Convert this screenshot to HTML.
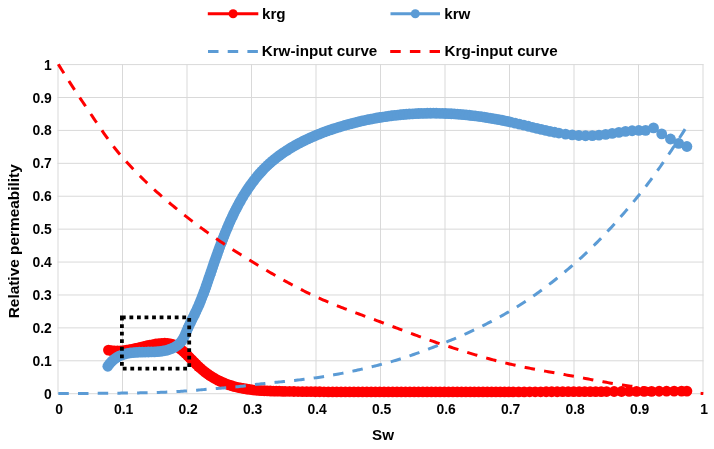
<!DOCTYPE html><html><head><meta charset="utf-8"><style>html,body{margin:0;padding:0;background:#fff;}svg{display:block;}</style></head><body>
<svg width="714" height="449" viewBox="0 0 714 449" font-family="'Liberation Sans', Arial, sans-serif" font-weight="bold">
<rect width="714" height="449" fill="#fff"/>
<path d="M58.00,64.10 V394.20 M122.50,64.10 V394.20 M187.00,64.10 V394.20 M251.50,64.10 V394.20 M316.00,64.10 V394.20 M380.50,64.10 V394.20 M445.00,64.10 V394.20 M509.50,64.10 V394.20 M574.00,64.10 V394.20 M638.50,64.10 V394.20 M703.00,64.10 V394.20 M57.50,393.70 H703.50 M57.50,360.79 H703.50 M57.50,327.88 H703.50 M57.50,294.97 H703.50 M57.50,262.06 H703.50 M57.50,229.15 H703.50 M57.50,196.24 H703.50 M57.50,163.33 H703.50 M57.50,130.42 H703.50 M57.50,97.51 H703.50 M57.50,64.60 H703.50" stroke="#D9D9D9" stroke-width="1" fill="none"/>
<text x="51.8" y="398.7" font-size="13.9" text-anchor="end" fill="#000">0</text>
<text x="51.8" y="365.8" font-size="13.9" text-anchor="end" fill="#000">0.1</text>
<text x="51.8" y="332.9" font-size="13.9" text-anchor="end" fill="#000">0.2</text>
<text x="51.8" y="300.0" font-size="13.9" text-anchor="end" fill="#000">0.3</text>
<text x="51.8" y="267.1" font-size="13.9" text-anchor="end" fill="#000">0.4</text>
<text x="51.8" y="234.1" font-size="13.9" text-anchor="end" fill="#000">0.5</text>
<text x="51.8" y="201.2" font-size="13.9" text-anchor="end" fill="#000">0.6</text>
<text x="51.8" y="168.3" font-size="13.9" text-anchor="end" fill="#000">0.7</text>
<text x="51.8" y="135.4" font-size="13.9" text-anchor="end" fill="#000">0.8</text>
<text x="51.8" y="102.5" font-size="13.9" text-anchor="end" fill="#000">0.9</text>
<text x="51.8" y="69.6" font-size="13.9" text-anchor="end" fill="#000">1</text>
<text x="59.2" y="413.9" font-size="13.9" text-anchor="middle" fill="#000">0</text>
<text x="123.7" y="413.9" font-size="13.9" text-anchor="middle" fill="#000">0.1</text>
<text x="188.2" y="413.9" font-size="13.9" text-anchor="middle" fill="#000">0.2</text>
<text x="252.7" y="413.9" font-size="13.9" text-anchor="middle" fill="#000">0.3</text>
<text x="317.2" y="413.9" font-size="13.9" text-anchor="middle" fill="#000">0.4</text>
<text x="381.7" y="413.9" font-size="13.9" text-anchor="middle" fill="#000">0.5</text>
<text x="446.2" y="413.9" font-size="13.9" text-anchor="middle" fill="#000">0.6</text>
<text x="510.7" y="413.9" font-size="13.9" text-anchor="middle" fill="#000">0.7</text>
<text x="575.2" y="413.9" font-size="13.9" text-anchor="middle" fill="#000">0.8</text>
<text x="639.7" y="413.9" font-size="13.9" text-anchor="middle" fill="#000">0.9</text>
<text x="704.2" y="413.9" font-size="13.9" text-anchor="middle" fill="#000">1</text>
<text x="383" y="439.7" font-size="15.2" text-anchor="middle" fill="#000">Sw</text>
<text transform="translate(18.5,241.3) rotate(-90)" x="0" y="0" font-size="15.4" text-anchor="middle" fill="#000">Relative permeability</text>
<path d="M108.46,350.11 L109.04,350.22 L109.62,350.33 L110.20,350.43 L110.78,350.52 L111.37,350.60 L111.95,350.67 L112.54,350.73 L113.12,350.79 L113.71,350.83 L114.29,350.87 L114.88,350.90 L115.47,350.93 L116.06,350.94 L116.65,350.95 L117.24,350.95 L117.83,350.95 L118.42,350.94 L119.01,350.92 L119.60,350.89 L120.19,350.86 L120.79,350.83 L121.38,350.78 L121.97,350.73 L122.57,350.68 L123.16,350.62 L123.76,350.56 L124.35,350.49 L124.95,350.41 L125.55,350.33 L126.14,350.25 L126.74,350.16 L127.34,350.07 L127.93,349.97 L128.53,349.87 L129.13,349.76 L129.72,349.66 L130.32,349.54 L130.92,349.43 L131.52,349.31 L132.11,349.19 L132.71,349.07 L133.31,348.95 L133.91,348.82 L134.51,348.69 L135.10,348.56 L135.70,348.42 L136.30,348.29 L136.90,348.15 L137.49,348.01 L138.09,347.87 L138.69,347.73 L139.29,347.59 L139.88,347.45 L140.48,347.31 L141.08,347.17 L141.67,347.02 L142.27,346.88 L142.86,346.74 L143.46,346.60 L144.05,346.46 L144.65,346.32 L145.24,346.18 L145.83,346.04 L146.43,345.90 L147.02,345.77 L147.61,345.63 L148.20,345.50 L148.79,345.37 L149.39,345.24 L149.98,345.11 L150.57,344.99 L151.15,344.87 L151.74,344.75 L152.33,344.63 L152.92,344.52 L153.50,344.41 L154.09,344.31 L154.67,344.21 L155.26,344.11 L155.84,344.01 L156.42,343.92 L157.00,343.84 L157.59,343.76 L158.17,343.68 L158.74,343.61 L159.32,343.54 L159.90,343.48 L160.48,343.42 L161.05,343.37 L161.63,343.33 L162.20,343.29 L162.77,343.25 L163.34,343.23 L163.91,343.21 L164.48,343.19 L165.05,343.19 L165.61,343.19 L166.18,343.21 L166.74,343.23 L167.29,343.26 L167.85,343.31 L168.40,343.37 L168.94,343.44 L169.49,343.53 L170.03,343.63 L170.56,343.75 L171.09,343.89 L171.61,344.04 L172.13,344.21 L172.64,344.40 L173.15,344.60 L173.65,344.82 L174.15,345.05 L174.65,345.29 L175.14,345.55 L175.62,345.81 L176.10,346.09 L176.58,346.37 L177.06,346.67 L177.53,346.97 L178.00,347.28 L178.46,347.59 L178.93,347.91 L179.39,348.25 L179.84,348.58 L180.30,348.93 L180.75,349.28 L181.20,349.63 L181.64,350.00 L182.09,350.37 L182.53,350.74 L182.97,351.12 L183.41,351.50 L183.85,351.89 L184.28,352.29 L184.72,352.68 L185.15,353.09 L185.58,353.49 L186.01,353.90 L186.44,354.32 L186.87,354.73 L187.29,355.15 L187.72,355.58 L188.14,356.00 L188.57,356.43 L188.99,356.86 L189.42,357.29 L189.84,357.73 L190.27,358.16 L190.69,358.60 L191.11,359.04 L191.54,359.47 L191.96,359.91 L192.39,360.35 L192.81,360.79 L193.24,361.23 L193.67,361.67 L194.10,362.11 L194.53,362.55 L194.96,362.98 L195.39,363.42 L195.82,363.85 L196.26,364.29 L196.69,364.72 L197.13,365.15 L197.57,365.57 L198.01,366.00 L198.46,366.42 L198.90,366.83 L199.35,367.25 L199.80,367.66 L200.25,368.07 L200.71,368.47 L201.17,368.87 L201.63,369.27 L202.09,369.66 L202.56,370.05 L203.03,370.44 L203.50,370.82 L203.97,371.20 L204.44,371.57 L204.92,371.94 L205.40,372.31 L205.88,372.67 L206.36,373.03 L206.85,373.39 L207.34,373.74 L207.83,374.09 L208.32,374.43 L208.81,374.77 L209.31,375.11 L209.81,375.44 L210.31,375.77 L210.81,376.09 L211.31,376.41 L211.82,376.73 L212.33,377.05 L212.84,377.36 L213.35,377.66 L213.86,377.96 L214.38,378.26 L214.90,378.56 L215.41,378.85 L215.94,379.13 L216.46,379.42 L216.98,379.69 L217.51,379.97 L218.03,380.24 L218.56,380.51 L219.09,380.77 L219.62,381.03 L220.16,381.28 L220.69,381.54 L221.23,381.78 L221.77,382.03 L222.31,382.27 L222.85,382.50 L223.39,382.73 L223.93,382.96 L224.48,383.18 L225.02,383.40 L225.57,383.62 L226.12,383.83 L226.67,384.04 L227.22,384.24 L227.77,384.44 L228.32,384.64 L228.88,384.83 L229.43,385.02 L229.99,385.20 L230.54,385.38 L231.10,385.56 L231.66,385.73 L232.22,385.90 L232.78,386.06 L233.35,386.22 L233.91,386.38 L234.47,386.54 L235.04,386.69 L235.61,386.83 L236.17,386.98 L236.74,387.12 L237.31,387.26 L237.88,387.39 L238.45,387.52 L239.02,387.65 L239.60,387.77 L240.17,387.89 L240.75,388.01 L241.32,388.13 L241.90,388.24 L242.47,388.35 L243.05,388.46 L243.63,388.56 L244.21,388.66 L244.79,388.76 L245.37,388.86 L245.95,388.95 L246.53,389.04 L247.12,389.13 L247.70,389.21 L248.28,389.29 L248.87,389.37 L249.45,389.45 L250.04,389.53 L250.63,389.60 L251.21,389.67 L251.80,389.74 L252.39,389.80 L252.98,389.87 L253.57,389.93 L254.16,389.99 L254.75,390.05 L255.34,390.10 L255.93,390.16 L256.52,390.21 L257.11,390.26 L257.71,390.31 L258.30,390.36 L258.89,390.40 L259.49,390.44 L260.08,390.49 L260.68,390.53 L261.27,390.57 L261.87,390.60 L262.46,390.64 L263.06,390.67 L263.65,390.70 L264.25,390.74 L264.85,390.77 L265.45,390.80 L266.04,390.82 L266.64,390.85 L267.24,390.88 L267.84,390.90 L268.43,390.92 L269.03,390.95 L269.63,390.97 L270.23,390.99 L270.83,391.01 L271.43,391.03 L272.03,391.04 L272.63,391.06 L273.23,391.08 L273.83,391.09 L274.43,391.11 L275.03,391.13 L275.62,391.14 L276.22,391.15 L276.82,391.17 L277.42,391.18 L278.02,391.19 L278.62,391.21 L279.22,391.22 L279.82,391.23 L280.42,391.24 L281.02,391.25 L281.62,391.27 L282.22,391.28 L282.82,391.29 L283.42,391.30 L284.01,391.31 L284.61,391.32 L285.21,391.33 L285.81,391.34 L286.41,391.35 L287.01,391.37 L287.61,391.38 L288.20,391.39 L288.80,391.40 L289.40,391.41 L290.00,391.42 L290.60,391.43 L291.19,391.44 L291.79,391.44 L292.39,391.45 L292.99,391.46 L293.59,391.47 L294.18,391.48 L294.78,391.49 L295.38,391.50 L295.97,391.51 L296.57,391.52 L297.17,391.52 L297.77,391.53 L298.36,391.54 L298.96,391.55 L299.56,391.56 L300.15,391.57 L300.75,391.57 L301.35,391.58 L301.94,391.59 L302.54,391.60 L303.14,391.60 L303.73,391.61 L304.33,391.62 L304.93,391.62 L305.52,391.63 L306.12,391.64 L306.71,391.64 L307.31,391.65 L307.91,391.66 L308.50,391.66 L309.10,391.67 L309.69,391.68 L310.29,391.68 L310.89,391.69 L311.48,391.69 L312.08,391.70 L312.67,391.71 L313.27,391.71 L313.86,391.72 L314.46,391.72 L315.05,391.73 L315.65,391.73 L316.24,391.74 L316.84,391.74 L317.44,391.75 L318.03,391.75 L318.63,391.76 L319.22,391.76 L319.82,391.77 L320.41,391.77 L321.00,391.77 L321.60,391.78 L322.19,391.78 L322.79,391.79 L323.38,391.79 L323.98,391.80 L324.57,391.80 L325.17,391.80 L325.76,391.81 L326.36,391.81 L326.95,391.81 L327.55,391.82 L328.14,391.82 L328.73,391.82 L329.33,391.83 L329.92,391.83 L330.52,391.83 L331.11,391.84 L331.70,391.84 L332.30,391.84 L332.89,391.85 L333.49,391.85 L334.08,391.85 L334.67,391.86 L335.27,391.86 L335.86,391.86 L336.46,391.86 L337.05,391.87 L337.64,391.87 L338.24,391.87 L338.83,391.87 L339.42,391.87 L340.02,391.88 L340.61,391.88 L341.21,391.88 L341.80,391.88 L342.39,391.88 L342.99,391.89 L343.58,391.89 L344.17,391.89 L344.77,391.89 L345.36,391.89 L345.95,391.89 L346.55,391.90 L347.14,391.90 L347.73,391.90 L348.33,391.90 L348.92,391.90 L349.51,391.90 L350.11,391.90 L350.70,391.91 L351.29,391.91 L351.89,391.91 L352.48,391.91 L353.07,391.91 L353.67,391.91 L354.26,391.91 L354.85,391.91 L355.45,391.91 L356.04,391.92 L356.63,391.92 L357.23,391.92 L357.82,391.92 L358.41,391.92 L359.00,391.92 L359.60,391.92 L360.19,391.92 L360.78,391.92 L361.38,391.92 L361.97,391.92 L362.56,391.92 L363.16,391.92 L363.75,391.92 L364.34,391.92 L364.94,391.92 L365.53,391.92 L366.12,391.92 L366.71,391.93 L367.31,391.93 L367.90,391.93 L368.49,391.93 L369.09,391.93 L369.68,391.93 L370.27,391.93 L370.87,391.93 L371.46,391.93 L372.05,391.93 L372.64,391.93 L373.24,391.93 L373.83,391.93 L374.42,391.93 L375.02,391.93 L375.61,391.93 L376.20,391.93 L376.80,391.93 L377.39,391.93 L377.98,391.93 L378.58,391.93 L379.17,391.93 L379.76,391.93 L380.35,391.93 L380.95,391.93 L381.54,391.93 L382.13,391.93 L382.73,391.93 L383.32,391.93 L383.91,391.93 L384.51,391.93 L385.10,391.93 L385.69,391.93 L386.29,391.93 L386.88,391.93 L387.47,391.93 L388.07,391.93 L388.66,391.93 L389.25,391.93 L389.85,391.93 L390.44,391.93 L391.03,391.93 L391.63,391.93 L392.22,391.93 L392.81,391.93 L393.41,391.93 L394.00,391.93 L394.59,391.93 L395.19,391.93 L395.78,391.93 L396.37,391.93 L396.97,391.93 L397.56,391.93 L398.16,391.93 L398.75,391.93 L399.34,391.93 L399.94,391.93 L400.53,391.93 L401.12,391.93 L401.72,391.93 L402.31,391.93 L402.90,391.93 L403.50,391.93 L404.09,391.93 L404.68,391.93 L405.28,391.93 L405.87,391.93 L406.47,391.93 L407.06,391.93 L407.65,391.93 L408.25,391.93 L408.84,391.93 L409.43,391.93 L410.03,391.93 L410.62,391.93 L411.22,391.93 L411.81,391.93 L412.40,391.93 L413.00,391.93 L413.59,391.93 L414.18,391.93 L414.78,391.93 L415.37,391.93 L415.97,391.93 L416.56,391.93 L417.15,391.93 L417.75,391.93 L418.34,391.93 L418.94,391.93 L419.53,391.93 L420.12,391.93 L420.72,391.93 L421.31,391.93 L421.91,391.93 L422.50,391.93 L423.09,391.92 L423.69,391.92 L424.28,391.92 L424.88,391.92 L425.47,391.92 L426.06,391.92 L426.66,391.92 L427.25,391.92 L427.85,391.92 L428.44,391.92 L429.03,391.92 L429.63,391.92 L430.22,391.92 L430.82,391.92 L431.41,391.92 L432.00,391.92 L432.60,391.92 L433.19,391.92 L433.79,391.92 L434.38,391.92 L434.97,391.92 L435.57,391.92 L436.16,391.92 L436.76,391.92 L437.35,391.92 L437.95,391.92 L438.54,391.92 L439.13,391.92 L439.73,391.92 L440.32,391.92 L440.92,391.92 L441.51,391.92 L442.11,391.92 L442.70,391.92 L443.29,391.92 L443.89,391.92 L444.48,391.92 L445.08,391.92 L445.67,391.91 L446.27,391.91 L446.86,391.91 L447.45,391.91 L448.05,391.91 L448.64,391.91 L449.24,391.91 L449.83,391.91 L450.43,391.91 L451.02,391.91 L451.61,391.91 L452.21,391.91 L452.80,391.91 L453.40,391.91 L453.99,391.91 L454.59,391.91 L455.18,391.91 L455.78,391.91 L456.37,391.91 L456.96,391.91 L457.56,391.91 L458.15,391.91 L458.75,391.91 L459.34,391.91 L459.94,391.90 L460.53,391.90 L461.13,391.90 L461.72,391.90 L462.31,391.90 L462.91,391.90 L463.50,391.90 L464.10,391.90 L464.69,391.90 L465.29,391.90 L465.88,391.90 L466.48,391.90 L467.07,391.90 L467.67,391.90 L468.26,391.90 L468.85,391.90 L469.45,391.90 L470.04,391.90 L470.64,391.89 L471.23,391.89 L471.83,391.89 L472.42,391.89 L473.02,391.89 L473.61,391.89 L474.21,391.89 L474.80,391.89 L475.39,391.89 L475.99,391.89 L476.58,391.89 L477.18,391.89 L477.77,391.89 L478.37,391.89 L478.96,391.89 L479.56,391.89 L480.15,391.88 L480.75,391.88 L481.34,391.88 L481.94,391.88 L482.53,391.88 L483.13,391.88 L483.72,391.88 L484.31,391.88 L484.91,391.88 L485.50,391.88 L486.10,391.88 L486.69,391.88 L487.29,391.88 L487.88,391.88 L488.48,391.87 L489.07,391.87 L489.67,391.87 L490.26,391.87 L490.86,391.87 L491.45,391.87 L492.05,391.87 L492.64,391.87 L493.24,391.87 L493.83,391.87 L494.43,391.87 L495.02,391.87 L495.62,391.86 L496.21,391.86 L496.80,391.86 L497.40,391.86 L497.99,391.86 L498.59,391.86 L499.18,391.86 L499.78,391.86 L500.37,391.86 L500.97,391.86 L501.56,391.86 L502.16,391.85 L502.75,391.85 L503.35,391.85 L503.94,391.85 L504.54,391.85 L505.13,391.85 L505.73,391.85 L506.32,391.85 L506.92,391.85 L507.51,391.85 L508.11,391.84 L508.70,391.84 L509.30,391.84 L509.89,391.84 L510.49,391.84 L511.08,391.84 L511.68,391.84 L512.27,391.84 L512.87,391.84 L513.46,391.84 L514.05,391.83 L514.65,391.83 L515.24,391.83 L515.84,391.83 L516.43,391.83 L517.03,391.83 L517.62,391.83 L518.22,391.83 L518.81,391.83 L519.41,391.82 L520.00,391.82 L520.60,391.82 L521.19,391.82 L521.79,391.82 L522.38,391.82 L522.98,391.82 L523.57,391.82 L524.17,391.81 L524.76,391.81 L525.36,391.81 L525.95,391.81 L526.55,391.81 L527.14,391.81 L527.74,391.81 L528.33,391.81 L528.93,391.80 L529.52,391.80 L530.12,391.80 L530.71,391.80 L531.31,391.80 L531.90,391.80 L532.50,391.80 L533.09,391.79 L533.69,391.79 L534.28,391.79 L534.88,391.79 L535.47,391.79 L536.07,391.79 L536.66,391.79 L537.26,391.79 L537.85,391.78 L538.45,391.78 L539.04,391.78 L539.64,391.78 L540.23,391.78 L540.83,391.78 L541.42,391.77 L542.02,391.77 L542.61,391.77 L543.20,391.77 L543.80,391.77 L544.39,391.77 L544.99,391.77 L545.58,391.76 L546.18,391.76 L546.77,391.76 L547.37,391.76 L547.96,391.76 L548.56,391.76 L549.15,391.75 L549.75,391.75 L550.34,391.75 L550.94,391.75 L551.53,391.75 L552.13,391.75 L552.72,391.74 L553.32,391.74 L553.91,391.74 L554.51,391.74 L555.10,391.74 L555.70,391.74 L556.29,391.73 L556.89,391.73 L557.48,391.73 L558.08,391.73 L558.67,391.73 L559.27,391.73 L559.86,391.72 L560.46,391.72 L561.05,391.72 L561.65,391.72 L562.24,391.72 L562.84,391.72 L563.43,391.71 L564.03,391.71 L564.62,391.71 L565.22,391.71 L565.81,391.71 L566.41,391.70 L567.00,391.70 L567.60,391.70 L568.19,391.70 L568.78,391.70 L569.38,391.69 L569.97,391.69 L570.57,391.69 L571.16,391.69 L571.76,391.69 L572.35,391.68 L572.95,391.68 L573.54,391.68 L574.14,391.68 L574.73,391.68 L575.33,391.67 L575.92,391.67 L576.52,391.67 L577.11,391.67 L577.71,391.67 L578.30,391.66 L578.90,391.66 L579.49,391.66 L580.09,391.66 L580.68,391.66 L581.28,391.65 L581.87,391.65 L582.47,391.65 L583.06,391.65 L583.66,391.65 L584.25,391.64 L584.84,391.64 L585.44,391.64 L586.03,391.64 L586.63,391.63 L587.22,391.63 L587.82,391.63 L588.41,391.63 L589.01,391.62 L589.60,391.62 L590.20,391.62 L590.79,391.62 L591.39,391.62 L591.98,391.61 L592.58,391.61 L593.17,391.61 L593.77,391.61 L594.36,391.60 L594.96,391.60 L595.55,391.60 L596.14,391.60 L596.74,391.59 L597.33,391.59 L597.93,391.59 L598.52,391.59 L599.12,391.58 L599.71,391.58 L600.31,391.58 L600.90,391.58 L601.50,391.57 L602.09,391.57 L602.69,391.57 L603.28,391.57 L603.87,391.56 L604.47,391.56 L605.06,391.56 L605.66,391.56 L606.25,391.55 L606.85,391.55 L607.44,391.55 L608.04,391.55 L608.63,391.54 L609.23,391.54 L609.82,391.54 L610.42,391.54 L611.01,391.53 L611.60,391.53 L612.20,391.53 L612.79,391.52 L613.39,391.52 L613.98,391.52 L614.58,391.52 L615.17,391.51 L615.77,391.51 L616.36,391.51 L616.95,391.51 L617.55,391.50 L618.14,391.50 L618.74,391.50 L619.33,391.49 L619.93,391.49 L620.52,391.49 L621.12,391.48 L621.71,391.48 L622.30,391.48 L622.90,391.48 L623.49,391.47 L624.09,391.47 L624.68,391.47 L625.28,391.46 L625.87,391.46 L626.47,391.46 L627.06,391.46 L627.65,391.45 L628.25,391.45 L628.84,391.45 L629.44,391.44 L630.03,391.44 L630.63,391.44 L631.22,391.43 L631.81,391.43 L632.41,391.43 L633.00,391.42 L633.60,391.42 L634.19,391.42 L634.79,391.41 L635.38,391.41 L635.97,391.41 L636.57,391.40 L637.16,391.40 L637.76,391.40 L638.35,391.40 L638.95,391.39 L639.54,391.39 L640.13,391.39 L640.73,391.38 L641.32,391.38 L641.92,391.38 L642.51,391.37 L643.11,391.37 L643.70,391.37 L644.29,391.36 L644.89,391.36 L645.48,391.35 L646.08,391.35 L646.67,391.35 L647.26,391.34 L647.86,391.34 L648.45,391.34 L649.05,391.33 L649.64,391.33 L650.23,391.33 L650.83,391.32 L651.42,391.32 L652.02,391.32 L652.61,391.31 L653.20,391.31 L653.80,391.31 L654.39,391.30 L654.99,391.30 L655.58,391.29 L656.17,391.29 L656.77,391.29 L657.36,391.28 L657.96,391.28 L658.55,391.28 L659.14,391.27 L659.74,391.27 L660.33,391.26 L660.93,391.26 L661.52,391.26 L662.11,391.25 L662.71,391.25 L663.30,391.25 L663.89,391.24 L664.49,391.24 L665.08,391.23 L665.68,391.23 L666.27,391.23 L666.86,391.22 L667.46,391.22 L668.05,391.21 L668.64,391.21 L669.24,391.21 L669.83,391.20 L670.43,391.20 L671.02,391.19 L671.61,391.19 L672.21,391.19 L672.80,391.18 L673.39,391.18 L673.99,391.17 L674.58,391.17 L675.17,391.17 L675.77,391.16 L676.36,391.16 L676.96,391.15 L677.55,391.15 L678.14,391.14 L678.74,391.14 L679.33,391.14 L679.92,391.13 L680.52,391.13 L681.11,391.12 L681.70,391.12 L682.30,391.12 L682.89,391.11 L683.48,391.11 L684.08,391.10 L684.67,391.10 L685.26,391.09 L685.86,391.09 L686.45,391.08 L686.90,391.08" stroke="#FF0000" stroke-width="3" fill="none" stroke-linejoin="round"/>
<g fill="#FF0000"><circle cx="108.46" cy="350.11" r="5.4"/><circle cx="111.51" cy="350.62" r="5.4"/><circle cx="114.44" cy="350.88" r="5.4"/><circle cx="117.53" cy="350.95" r="5.4"/><circle cx="120.49" cy="350.85" r="5.4"/><circle cx="123.46" cy="350.59" r="5.4"/><circle cx="126.44" cy="350.20" r="5.4"/><circle cx="129.43" cy="349.71" r="5.4"/><circle cx="132.41" cy="349.13" r="5.4"/><circle cx="135.25" cy="348.52" r="5.4"/><circle cx="138.24" cy="347.84" r="5.4"/><circle cx="141.08" cy="347.17" r="5.4"/><circle cx="144.05" cy="346.46" r="5.4"/><circle cx="147.02" cy="345.77" r="5.4"/><circle cx="149.83" cy="345.14" r="5.4"/><circle cx="152.77" cy="344.55" r="5.4"/><circle cx="155.84" cy="344.01" r="5.4"/><circle cx="158.74" cy="343.61" r="5.4"/><circle cx="161.77" cy="343.32" r="5.4"/><circle cx="164.77" cy="343.19" r="5.4"/><circle cx="167.71" cy="343.30" r="5.4"/><circle cx="170.69" cy="343.78" r="5.4"/><circle cx="173.53" cy="344.76" r="5.4"/><circle cx="176.22" cy="346.16" r="5.4"/><circle cx="178.69" cy="347.75" r="5.4"/><circle cx="181.08" cy="349.54" r="5.4"/><circle cx="183.41" cy="351.50" r="5.4"/><circle cx="185.58" cy="353.49" r="5.4"/><circle cx="187.72" cy="355.58" r="5.4"/><circle cx="189.84" cy="357.73" r="5.4"/><circle cx="191.96" cy="359.91" r="5.4"/><circle cx="194.10" cy="362.11" r="5.4"/><circle cx="196.15" cy="364.18" r="5.4"/><circle cx="198.35" cy="366.31" r="5.4"/><circle cx="200.48" cy="368.27" r="5.4"/><circle cx="202.79" cy="370.25" r="5.4"/><circle cx="205.16" cy="372.13" r="5.4"/><circle cx="207.58" cy="373.91" r="5.4"/><circle cx="210.06" cy="375.60" r="5.4"/><circle cx="212.58" cy="377.20" r="5.4"/><circle cx="215.16" cy="378.70" r="5.4"/><circle cx="217.77" cy="380.10" r="5.4"/><circle cx="220.56" cy="381.47" r="5.4"/><circle cx="223.25" cy="382.68" r="5.4"/><circle cx="225.98" cy="383.78" r="5.4"/><circle cx="228.88" cy="384.83" r="5.4"/><circle cx="231.66" cy="385.73" r="5.4"/><circle cx="234.62" cy="386.57" r="5.4"/><circle cx="237.45" cy="387.29" r="5.4"/><circle cx="240.46" cy="387.95" r="5.4"/><circle cx="243.34" cy="388.51" r="5.4"/><circle cx="246.39" cy="389.02" r="5.4"/><circle cx="249.31" cy="389.43" r="5.4"/><circle cx="252.24" cy="389.79" r="5.4"/><circle cx="255.19" cy="390.09" r="5.4"/><circle cx="258.30" cy="390.36" r="5.4"/><circle cx="261.27" cy="390.57" r="5.4"/><circle cx="264.25" cy="390.74" r="5.4"/><circle cx="267.24" cy="390.88" r="5.4"/><circle cx="270.23" cy="390.99" r="5.4"/><circle cx="273.23" cy="391.08" r="5.4"/><circle cx="276.22" cy="391.15" r="5.4"/><circle cx="279.22" cy="391.22" r="5.4"/><circle cx="282.22" cy="391.28" r="5.4"/><circle cx="285.21" cy="391.33" r="5.4"/><circle cx="289.55" cy="391.41" r="5.4"/><circle cx="293.88" cy="391.48" r="5.4"/><circle cx="298.06" cy="391.54" r="5.4"/><circle cx="302.39" cy="391.59" r="5.4"/><circle cx="306.71" cy="391.64" r="5.4"/><circle cx="311.03" cy="391.69" r="5.4"/><circle cx="315.35" cy="391.73" r="5.4"/><circle cx="319.67" cy="391.76" r="5.4"/><circle cx="323.98" cy="391.80" r="5.4"/><circle cx="328.29" cy="391.82" r="5.4"/><circle cx="332.60" cy="391.85" r="5.4"/><circle cx="336.75" cy="391.86" r="5.4"/><circle cx="341.06" cy="391.88" r="5.4"/><circle cx="345.36" cy="391.89" r="5.4"/><circle cx="349.66" cy="391.90" r="5.4"/><circle cx="353.96" cy="391.91" r="5.4"/><circle cx="358.26" cy="391.92" r="5.4"/><circle cx="362.56" cy="391.92" r="5.4"/><circle cx="366.86" cy="391.93" r="5.4"/><circle cx="371.16" cy="391.93" r="5.4"/><circle cx="375.46" cy="391.93" r="5.4"/><circle cx="379.76" cy="391.93" r="5.4"/><circle cx="384.06" cy="391.93" r="5.4"/><circle cx="388.36" cy="391.93" r="5.4"/><circle cx="392.67" cy="391.93" r="5.4"/><circle cx="396.97" cy="391.93" r="5.4"/><circle cx="401.27" cy="391.93" r="5.4"/><circle cx="405.58" cy="391.93" r="5.4"/><circle cx="409.88" cy="391.93" r="5.4"/><circle cx="414.18" cy="391.93" r="5.4"/><circle cx="418.49" cy="391.93" r="5.4"/><circle cx="422.80" cy="391.92" r="5.4"/><circle cx="427.10" cy="391.92" r="5.4"/><circle cx="431.41" cy="391.92" r="5.4"/><circle cx="435.72" cy="391.92" r="5.4"/><circle cx="440.03" cy="391.92" r="5.4"/><circle cx="444.33" cy="391.92" r="5.4"/><circle cx="448.64" cy="391.91" r="5.4"/><circle cx="452.95" cy="391.91" r="5.4"/><circle cx="457.26" cy="391.91" r="5.4"/><circle cx="461.57" cy="391.90" r="5.4"/><circle cx="465.88" cy="391.90" r="5.4"/><circle cx="470.19" cy="391.90" r="5.4"/><circle cx="474.35" cy="391.89" r="5.4"/><circle cx="478.67" cy="391.89" r="5.4"/><circle cx="482.98" cy="391.88" r="5.4"/><circle cx="487.29" cy="391.88" r="5.4"/><circle cx="491.60" cy="391.87" r="5.4"/><circle cx="495.91" cy="391.86" r="5.4"/><circle cx="500.22" cy="391.86" r="5.4"/><circle cx="504.54" cy="391.85" r="5.4"/><circle cx="508.85" cy="391.84" r="5.4"/><circle cx="513.16" cy="391.84" r="5.4"/><circle cx="518.67" cy="391.83" r="5.4"/><circle cx="524.17" cy="391.81" r="5.4"/><circle cx="529.67" cy="391.80" r="5.4"/><circle cx="535.17" cy="391.79" r="5.4"/><circle cx="540.68" cy="391.78" r="5.4"/><circle cx="546.18" cy="391.76" r="5.4"/><circle cx="551.68" cy="391.75" r="5.4"/><circle cx="557.19" cy="391.73" r="5.4"/><circle cx="562.69" cy="391.72" r="5.4"/><circle cx="568.19" cy="391.70" r="5.4"/><circle cx="573.69" cy="391.68" r="5.4"/><circle cx="579.19" cy="391.66" r="5.4"/><circle cx="584.70" cy="391.64" r="5.4"/><circle cx="590.20" cy="391.62" r="5.4"/><circle cx="595.70" cy="391.60" r="5.4"/><circle cx="601.20" cy="391.58" r="5.4"/><circle cx="606.55" cy="391.55" r="5.4"/><circle cx="614.13" cy="391.52" r="5.4"/><circle cx="621.56" cy="391.48" r="5.4"/><circle cx="629.14" cy="391.44" r="5.4"/><circle cx="636.57" cy="391.40" r="5.4"/><circle cx="644.14" cy="391.36" r="5.4"/><circle cx="651.57" cy="391.32" r="5.4"/><circle cx="659.14" cy="391.27" r="5.4"/><circle cx="666.57" cy="391.22" r="5.4"/><circle cx="674.14" cy="391.17" r="5.4"/><circle cx="681.56" cy="391.12" r="5.4"/><circle cx="686.90" cy="391.08" r="5.4"/></g>
<path d="M107.84,366.25 L108.27,365.60 L108.71,364.96 L109.16,364.35 L109.62,363.76 L110.09,363.18 L110.57,362.63 L111.05,362.09 L111.55,361.58 L112.05,361.08 L112.56,360.60 L113.07,360.13 L113.59,359.69 L114.13,359.26 L114.66,358.85 L115.21,358.45 L115.76,358.07 L116.32,357.71 L116.88,357.36 L117.45,357.02 L118.03,356.70 L118.61,356.40 L119.20,356.11 L119.79,355.83 L120.39,355.57 L121.00,355.32 L121.61,355.08 L122.23,354.85 L122.85,354.63 L123.47,354.43 L124.11,354.24 L124.74,354.06 L125.38,353.89 L126.02,353.73 L126.67,353.58 L127.33,353.44 L127.98,353.31 L128.64,353.18 L129.31,353.07 L129.97,352.96 L130.64,352.87 L131.32,352.78 L131.99,352.69 L132.67,352.62 L133.35,352.55 L134.04,352.48 L134.73,352.42 L135.42,352.37 L136.11,352.33 L136.80,352.28 L137.50,352.25 L138.19,352.21 L138.89,352.18 L139.59,352.16 L140.29,352.13 L140.99,352.11 L141.70,352.10 L142.40,352.08 L143.11,352.07 L143.81,352.05 L144.52,352.04 L145.22,352.03 L145.93,352.02 L146.64,352.01 L147.34,352.00 L148.05,351.99 L148.75,351.98 L149.46,351.97 L150.16,351.96 L150.86,351.94 L151.56,351.92 L152.26,351.90 L152.96,351.88 L153.66,351.85 L154.36,351.82 L155.05,351.79 L155.74,351.75 L156.43,351.71 L157.12,351.66 L157.80,351.61 L158.49,351.55 L159.17,351.48 L159.84,351.41 L160.52,351.33 L161.19,351.25 L161.86,351.16 L162.52,351.06 L163.18,350.95 L163.84,350.84 L164.49,350.71 L165.14,350.58 L165.79,350.44 L166.43,350.29 L167.07,350.12 L167.70,349.95 L168.33,349.77 L168.95,349.57 L169.57,349.37 L170.18,349.15 L170.79,348.92 L171.39,348.68 L171.98,348.43 L172.57,348.16 L173.16,347.88 L173.74,347.59 L174.31,347.28 L174.88,346.96 L175.43,346.63 L175.99,346.28 L176.53,345.91 L177.06,345.53 L177.58,345.14 L178.09,344.74 L178.59,344.32 L179.08,343.88 L179.56,343.43 L180.02,342.97 L180.46,342.50 L180.90,342.01 L181.31,341.51 L181.71,340.99 L182.09,340.46 L182.46,339.92 L182.81,339.36 L183.15,338.80 L183.48,338.22 L183.79,337.64 L184.09,337.05 L184.39,336.44 L184.68,335.83 L184.96,335.22 L185.23,334.60 L185.50,333.97 L185.77,333.34 L186.03,332.70 L186.29,332.07 L186.55,331.43 L186.81,330.78 L187.08,330.14 L187.34,329.50 L187.61,328.86 L187.88,328.22 L188.16,327.58 L188.45,326.94 L188.73,326.31 L189.02,325.67 L189.32,325.04 L189.61,324.41 L189.91,323.78 L190.22,323.15 L190.52,322.52 L190.83,321.89 L191.14,321.27 L191.45,320.64 L191.76,320.02 L192.07,319.39 L192.38,318.77 L192.69,318.15 L193.00,317.53 L193.32,316.91 L193.63,316.29 L193.94,315.67 L194.24,315.05 L194.55,314.43 L194.85,313.81 L195.16,313.19 L195.46,312.57 L195.75,311.95 L196.05,311.33 L196.34,310.71 L196.62,310.10 L196.91,309.48 L197.19,308.86 L197.47,308.24 L197.75,307.62 L198.02,307.00 L198.30,306.38 L198.56,305.77 L198.83,305.15 L199.10,304.53 L199.36,303.91 L199.62,303.29 L199.88,302.67 L200.14,302.05 L200.39,301.43 L200.64,300.81 L200.89,300.19 L201.14,299.57 L201.39,298.95 L201.63,298.33 L201.88,297.71 L202.12,297.09 L202.36,296.47 L202.60,295.85 L202.83,295.23 L203.07,294.61 L203.30,293.99 L203.54,293.36 L203.77,292.74 L204.00,292.12 L204.23,291.50 L204.45,290.87 L204.68,290.25 L204.91,289.62 L205.13,289.00 L205.35,288.37 L205.58,287.75 L205.80,287.12 L206.02,286.50 L206.24,285.87 L206.46,285.24 L206.68,284.62 L206.90,283.99 L207.12,283.36 L207.33,282.73 L207.55,282.10 L207.77,281.47 L207.98,280.84 L208.20,280.21 L208.42,279.58 L208.63,278.95 L208.85,278.32 L209.07,277.68 L209.28,277.05 L209.50,276.42 L209.71,275.78 L209.93,275.14 L210.15,274.51 L210.36,273.87 L210.58,273.23 L210.80,272.60 L211.01,271.96 L211.23,271.32 L211.45,270.68 L211.67,270.04 L211.89,269.40 L212.11,268.76 L212.33,268.12 L212.55,267.47 L212.77,266.83 L212.99,266.19 L213.21,265.54 L213.43,264.90 L213.65,264.26 L213.88,263.61 L214.10,262.97 L214.32,262.32 L214.55,261.68 L214.77,261.03 L214.99,260.39 L215.22,259.74 L215.45,259.09 L215.67,258.45 L215.90,257.80 L216.13,257.15 L216.36,256.51 L216.59,255.86 L216.81,255.21 L217.04,254.57 L217.28,253.92 L217.51,253.27 L217.74,252.62 L217.97,251.98 L218.21,251.33 L218.44,250.68 L218.68,250.03 L218.91,249.39 L219.15,248.74 L219.38,248.09 L219.62,247.44 L219.86,246.80 L220.10,246.15 L220.34,245.50 L220.58,244.86 L220.83,244.21 L221.07,243.56 L221.31,242.92 L221.56,242.27 L221.80,241.63 L222.05,240.98 L222.30,240.34 L222.55,239.69 L222.80,239.05 L223.05,238.40 L223.30,237.76 L223.55,237.12 L223.80,236.47 L224.06,235.83 L224.31,235.19 L224.57,234.55 L224.83,233.91 L225.09,233.26 L225.35,232.62 L225.61,231.98 L225.87,231.35 L226.13,230.71 L226.40,230.07 L226.66,229.43 L226.93,228.80 L227.20,228.16 L227.46,227.52 L227.73,226.89 L228.01,226.25 L228.28,225.62 L228.55,224.99 L228.83,224.36 L229.10,223.72 L229.38,223.09 L229.66,222.46 L229.94,221.84 L230.22,221.21 L230.51,220.58 L230.79,219.95 L231.08,219.33 L231.36,218.70 L231.65,218.08 L231.94,217.46 L232.23,216.84 L232.52,216.21 L232.82,215.59 L233.11,214.98 L233.41,214.36 L233.71,213.74 L234.01,213.12 L234.31,212.51 L234.61,211.90 L234.92,211.28 L235.22,210.67 L235.53,210.06 L235.84,209.45 L236.15,208.84 L236.47,208.24 L236.78,207.63 L237.09,207.03 L237.41,206.42 L237.73,205.82 L238.05,205.22 L238.37,204.62 L238.70,204.02 L239.02,203.43 L239.35,202.83 L239.68,202.24 L240.01,201.64 L240.34,201.05 L240.68,200.46 L241.02,199.87 L241.35,199.29 L241.69,198.70 L242.04,198.12 L242.38,197.53 L242.72,196.95 L243.07,196.37 L243.42,195.80 L243.77,195.22 L244.12,194.65 L244.48,194.07 L244.84,193.50 L245.20,192.93 L245.56,192.36 L245.92,191.80 L246.28,191.23 L246.65,190.67 L247.02,190.11 L247.39,189.55 L247.76,188.99 L248.14,188.43 L248.51,187.88 L248.89,187.33 L249.27,186.77 L249.66,186.23 L250.04,185.68 L250.43,185.13 L250.82,184.59 L251.21,184.05 L251.60,183.51 L252.00,182.97 L252.40,182.44 L252.80,181.90 L253.20,181.37 L253.61,180.84 L254.01,180.32 L254.42,179.79 L254.84,179.27 L255.25,178.75 L255.67,178.23 L256.08,177.71 L256.51,177.20 L256.93,176.68 L257.35,176.17 L257.78,175.66 L258.21,175.16 L258.65,174.65 L259.08,174.15 L259.52,173.65 L259.96,173.16 L260.40,172.66 L260.85,172.17 L261.29,171.68 L261.74,171.19 L262.20,170.71 L262.65,170.23 L263.11,169.75 L263.57,169.27 L264.03,168.79 L264.50,168.32 L264.96,167.85 L265.43,167.38 L265.91,166.91 L266.38,166.45 L266.86,165.99 L267.34,165.53 L267.82,165.08 L268.31,164.63 L268.80,164.18 L269.29,163.73 L269.78,163.28 L270.28,162.84 L270.78,162.40 L271.28,161.96 L271.79,161.53 L272.29,161.10 L272.80,160.67 L273.31,160.24 L273.83,159.82 L274.35,159.40 L274.87,158.98 L275.39,158.56 L275.91,158.14 L276.44,157.73 L276.97,157.32 L277.50,156.92 L278.03,156.51 L278.57,156.11 L279.10,155.71 L279.64,155.31 L280.19,154.92 L280.73,154.53 L281.28,154.14 L281.82,153.75 L282.38,153.36 L282.93,152.98 L283.48,152.60 L284.04,152.22 L284.60,151.85 L285.16,151.47 L285.72,151.10 L286.29,150.73 L286.86,150.37 L287.43,150.00 L288.00,149.64 L288.57,149.28 L289.14,148.92 L289.72,148.57 L290.30,148.21 L290.88,147.86 L291.46,147.52 L292.05,147.17 L292.63,146.83 L293.22,146.48 L293.81,146.14 L294.40,145.81 L294.99,145.47 L295.59,145.14 L296.18,144.81 L296.78,144.48 L297.38,144.15 L297.98,143.83 L298.58,143.51 L299.18,143.19 L299.79,142.87 L300.40,142.55 L301.00,142.24 L301.61,141.93 L302.23,141.62 L302.84,141.31 L303.45,141.01 L304.07,140.70 L304.68,140.40 L305.30,140.10 L305.92,139.81 L306.54,139.51 L307.16,139.22 L307.79,138.93 L308.41,138.64 L309.04,138.35 L309.66,138.06 L310.29,137.78 L310.92,137.50 L311.55,137.22 L312.18,136.94 L312.81,136.67 L313.45,136.39 L314.08,136.12 L314.72,135.85 L315.35,135.59 L315.99,135.32 L316.63,135.06 L317.27,134.79 L317.91,134.53 L318.55,134.28 L319.19,134.02 L319.83,133.76 L320.48,133.51 L321.12,133.26 L321.77,133.01 L322.41,132.76 L323.06,132.52 L323.71,132.28 L324.36,132.03 L325.00,131.79 L325.65,131.55 L326.30,131.32 L326.95,131.08 L327.61,130.85 L328.26,130.62 L328.91,130.39 L329.56,130.16 L330.22,129.93 L330.87,129.71 L331.53,129.49 L332.18,129.27 L332.84,129.05 L333.49,128.83 L334.15,128.61 L334.81,128.40 L335.46,128.18 L336.12,127.97 L336.78,127.76 L337.44,127.55 L338.10,127.35 L338.76,127.14 L339.41,126.94 L340.07,126.74 L340.73,126.54 L341.39,126.34 L342.05,126.14 L342.71,125.95 L343.37,125.75 L344.03,125.56 L344.69,125.37 L345.36,125.18 L346.02,124.99 L346.68,124.81 L347.34,124.62 L348.00,124.44 L348.66,124.26 L349.32,124.08 L349.99,123.90 L350.65,123.72 L351.31,123.54 L351.97,123.37 L352.64,123.20 L353.30,123.03 L353.96,122.86 L354.63,122.69 L355.29,122.52 L355.95,122.36 L356.62,122.20 L357.28,122.03 L357.95,121.87 L358.61,121.72 L359.28,121.56 L359.94,121.40 L360.61,121.25 L361.27,121.10 L361.94,120.95 L362.60,120.80 L363.27,120.65 L363.93,120.50 L364.60,120.36 L365.26,120.21 L365.93,120.07 L366.60,119.93 L367.26,119.79 L367.93,119.65 L368.60,119.52 L369.26,119.38 L369.93,119.25 L370.60,119.12 L371.27,118.99 L371.93,118.86 L372.60,118.73 L373.27,118.61 L373.94,118.48 L374.60,118.36 L375.27,118.24 L375.94,118.12 L376.61,118.00 L377.28,117.89 L377.95,117.77 L378.62,117.66 L379.28,117.55 L379.95,117.44 L380.62,117.33 L381.29,117.22 L381.96,117.11 L382.63,117.01 L383.30,116.90 L383.97,116.80 L384.64,116.70 L385.31,116.60 L385.98,116.51 L386.65,116.41 L387.32,116.32 L387.99,116.22 L388.66,116.13 L389.33,116.04 L390.00,115.95 L390.67,115.86 L391.34,115.78 L392.02,115.69 L392.69,115.61 L393.36,115.53 L394.03,115.45 L394.70,115.37 L395.37,115.29 L396.04,115.22 L396.71,115.14 L397.39,115.07 L398.06,115.00 L398.73,114.93 L399.40,114.86 L400.07,114.79 L400.75,114.73 L401.42,114.66 L402.09,114.60 L402.76,114.54 L403.44,114.48 L404.11,114.42 L404.78,114.36 L405.45,114.31 L406.13,114.25 L406.80,114.20 L407.47,114.15 L408.14,114.10 L408.82,114.05 L409.49,114.00 L410.16,113.96 L410.84,113.91 L411.51,113.87 L412.18,113.83 L412.86,113.79 L413.53,113.75 L414.20,113.71 L414.88,113.68 L415.55,113.64 L416.22,113.61 L416.90,113.58 L417.57,113.55 L418.24,113.52 L418.92,113.49 L419.59,113.46 L420.26,113.44 L420.94,113.41 L421.61,113.39 L422.29,113.37 L422.96,113.35 L423.63,113.33 L424.31,113.32 L424.98,113.30 L425.66,113.29 L426.33,113.27 L427.00,113.26 L427.68,113.25 L428.35,113.25 L429.03,113.24 L429.70,113.23 L430.37,113.23 L431.05,113.22 L431.72,113.22 L432.40,113.22 L433.07,113.22 L433.74,113.23 L434.42,113.23 L435.09,113.24 L435.77,113.24 L436.44,113.25 L437.11,113.26 L437.79,113.27 L438.46,113.28 L439.14,113.29 L439.81,113.31 L440.49,113.32 L441.16,113.34 L441.83,113.36 L442.51,113.38 L443.18,113.40 L443.86,113.42 L444.53,113.45 L445.20,113.47 L445.88,113.50 L446.55,113.53 L447.23,113.56 L447.90,113.59 L448.57,113.62 L449.25,113.65 L449.92,113.69 L450.60,113.72 L451.27,113.76 L451.94,113.80 L452.62,113.84 L453.29,113.88 L453.96,113.92 L454.64,113.96 L455.31,114.01 L455.99,114.05 L456.66,114.10 L457.33,114.15 L458.01,114.20 L458.68,114.25 L459.35,114.30 L460.03,114.36 L460.70,114.41 L461.37,114.47 L462.05,114.53 L462.72,114.59 L463.39,114.65 L464.06,114.71 L464.74,114.77 L465.41,114.84 L466.08,114.90 L466.76,114.97 L467.43,115.04 L468.10,115.11 L468.77,115.18 L469.45,115.25 L470.12,115.32 L470.79,115.40 L471.46,115.47 L472.13,115.55 L472.81,115.63 L473.48,115.71 L474.15,115.79 L474.82,115.87 L475.49,115.95 L476.17,116.04 L476.84,116.12 L477.51,116.21 L478.18,116.30 L478.85,116.39 L479.52,116.48 L480.19,116.57 L480.87,116.66 L481.54,116.76 L482.21,116.85 L482.88,116.95 L483.55,117.05 L484.22,117.15 L484.89,117.25 L485.56,117.35 L486.23,117.45 L486.90,117.56 L487.57,117.66 L488.24,117.77 L488.91,117.88 L489.58,117.99 L490.25,118.10 L490.92,118.21 L491.59,118.32 L492.26,118.44 L492.93,118.55 L493.60,118.67 L494.26,118.79 L494.93,118.91 L495.60,119.03 L496.27,119.15 L496.94,119.27 L497.61,119.40 L498.28,119.52 L498.94,119.65 L499.61,119.77 L500.28,119.90 L500.95,120.03 L501.61,120.16 L502.28,120.30 L502.95,120.43 L503.62,120.56 L504.28,120.70 L504.95,120.84 L505.62,120.98 L506.28,121.12 L506.95,121.26 L507.61,121.40 L508.28,121.54 L508.95,121.68 L509.61,121.83 L510.28,121.98 L510.94,122.12 L511.61,122.27 L512.27,122.42 L512.94,122.57 L513.60,122.73 L514.27,122.88 L514.93,123.03 L515.60,123.19 L516.26,123.34 L516.93,123.50 L517.59,123.65 L518.25,123.81 L518.92,123.97 L519.58,124.13 L520.25,124.29 L520.91,124.45 L521.57,124.61 L522.24,124.77 L522.90,124.93 L523.56,125.09 L524.23,125.25 L524.89,125.41 L525.55,125.58 L526.22,125.74 L526.88,125.90 L527.54,126.06 L528.20,126.23 L528.87,126.39 L529.53,126.55 L530.19,126.71 L530.86,126.88 L531.52,127.04 L532.18,127.20 L532.84,127.36 L533.51,127.52 L534.17,127.68 L534.83,127.84 L535.50,128.01 L536.16,128.16 L536.82,128.32 L537.48,128.48 L538.15,128.64 L538.81,128.80 L539.47,128.96 L540.14,129.11 L540.80,129.27 L541.46,129.42 L542.13,129.57 L542.79,129.73 L543.45,129.88 L544.12,130.03 L544.78,130.18 L545.44,130.33 L546.11,130.48 L546.77,130.62 L547.43,130.77 L548.10,130.91 L548.76,131.06 L549.43,131.20 L550.09,131.34 L550.75,131.48 L551.42,131.61 L552.08,131.75 L552.75,131.88 L553.41,132.02 L554.08,132.15 L554.74,132.28 L555.41,132.41 L556.07,132.53 L556.74,132.66 L557.40,132.78 L558.07,132.90 L558.74,133.02 L559.40,133.14 L560.07,133.25 L560.74,133.37 L561.40,133.48 L562.07,133.58 L562.74,133.69 L563.40,133.80 L564.07,133.90 L564.74,134.00 L565.41,134.10 L566.07,134.19 L566.74,134.28 L567.41,134.37 L568.08,134.46 L568.75,134.55 L569.42,134.63 L570.09,134.71 L570.76,134.79 L571.43,134.86 L572.10,134.94 L572.77,135.00 L573.44,135.07 L574.11,135.14 L574.78,135.20 L575.45,135.25 L576.12,135.31 L576.80,135.36 L577.47,135.41 L578.14,135.45 L578.81,135.50 L579.49,135.54 L580.16,135.57 L580.84,135.61 L581.51,135.63 L582.18,135.66 L582.86,135.68 L583.53,135.70 L584.21,135.72 L584.89,135.73 L585.56,135.74 L586.24,135.74 L586.91,135.74 L587.59,135.74 L588.27,135.74 L588.95,135.73 L589.63,135.71 L590.30,135.69 L590.98,135.67 L591.66,135.65 L592.34,135.62 L593.02,135.58 L593.70,135.55 L594.38,135.50 L595.07,135.46 L595.75,135.41 L596.43,135.35 L597.11,135.30 L597.80,135.23 L598.48,135.17 L599.16,135.10 L599.85,135.03 L600.53,134.95 L601.21,134.88 L601.90,134.79 L602.58,134.71 L603.27,134.63 L603.95,134.54 L604.64,134.45 L605.32,134.35 L606.01,134.26 L606.69,134.16 L607.38,134.07 L608.07,133.97 L608.75,133.87 L609.44,133.77 L610.12,133.66 L610.81,133.56 L611.49,133.46 L612.18,133.35 L612.86,133.25 L613.55,133.14 L614.24,133.04 L614.92,132.93 L615.61,132.83 L616.29,132.72 L616.97,132.62 L617.66,132.51 L618.34,132.41 L619.03,132.31 L619.71,132.21 L620.39,132.11 L621.08,132.01 L621.76,131.92 L622.44,131.82 L623.12,131.73 L623.80,131.64 L624.48,131.55 L625.16,131.46 L625.84,131.38 L626.52,131.30 L627.20,131.22 L627.88,131.14 L628.56,131.07 L629.24,131.00 L629.91,130.93 L630.59,130.87 L631.27,130.81 L631.94,130.76 L632.62,130.71 L633.29,130.66 L633.96,130.62 L634.63,130.58 L635.31,130.54 L635.98,130.51 L636.65,130.49 L637.32,130.47 L637.98,130.46 L638.65,130.45 L639.32,130.44 L639.99,130.44 L640.65,130.45 L641.31,130.45 L641.98,130.45 L642.64,130.45 L643.30,130.44 L643.96,130.42 L644.62,130.39 L645.27,130.35 L645.93,130.29 L646.58,130.22 L647.24,130.13 L647.89,130.02 L648.54,129.89 L649.19,129.74 L649.83,129.55 L650.48,129.34 L651.12,129.10 L651.76,128.83 L652.40,128.52 L653.04,128.17 L653.52,127.89 L661.70,133.89 L670.47,139.00 L678.66,143.41 L686.92,146.50" stroke="#5B9BD5" stroke-width="3" fill="none" stroke-linejoin="round"/>
<g fill="#5B9BD5"><circle cx="107.84" cy="366.25" r="5.4"/><circle cx="109.62" cy="363.76" r="5.4"/><circle cx="111.67" cy="361.45" r="5.4"/><circle cx="113.86" cy="359.47" r="5.4"/><circle cx="116.32" cy="357.71" r="5.4"/><circle cx="118.90" cy="356.25" r="5.4"/><circle cx="121.61" cy="355.08" r="5.4"/><circle cx="124.42" cy="354.15" r="5.4"/><circle cx="127.33" cy="353.44" r="5.4"/><circle cx="130.31" cy="352.91" r="5.4"/><circle cx="133.35" cy="352.55" r="5.4"/><circle cx="136.28" cy="352.31" r="5.4"/><circle cx="139.24" cy="352.17" r="5.4"/><circle cx="142.40" cy="352.08" r="5.4"/><circle cx="145.40" cy="352.03" r="5.4"/><circle cx="148.40" cy="351.99" r="5.4"/><circle cx="151.39" cy="351.93" r="5.4"/><circle cx="154.36" cy="351.82" r="5.4"/><circle cx="157.29" cy="351.65" r="5.4"/><circle cx="160.35" cy="351.35" r="5.4"/><circle cx="163.18" cy="350.95" r="5.4"/><circle cx="166.27" cy="350.32" r="5.4"/><circle cx="169.10" cy="349.52" r="5.4"/><circle cx="171.84" cy="348.49" r="5.4"/><circle cx="174.59" cy="347.12" r="5.4"/><circle cx="177.06" cy="345.53" r="5.4"/><circle cx="179.44" cy="343.55" r="5.4"/><circle cx="181.41" cy="341.38" r="5.4"/><circle cx="183.07" cy="338.94" r="5.4"/><circle cx="184.46" cy="336.29" r="5.4"/><circle cx="185.70" cy="333.50" r="5.4"/><circle cx="186.81" cy="330.78" r="5.4"/><circle cx="188.02" cy="327.90" r="5.4"/><circle cx="189.24" cy="325.20" r="5.4"/><circle cx="190.52" cy="322.52" r="5.4"/><circle cx="191.84" cy="319.86" r="5.4"/><circle cx="193.24" cy="317.06" r="5.4"/><circle cx="194.55" cy="314.43" r="5.4"/><circle cx="195.83" cy="311.80" r="5.4"/><circle cx="197.12" cy="309.01" r="5.4"/><circle cx="198.36" cy="306.23" r="5.4"/><circle cx="199.49" cy="303.60" r="5.4"/><circle cx="200.64" cy="300.81" r="5.4"/><circle cx="201.76" cy="298.02" r="5.4"/><circle cx="202.83" cy="295.23" r="5.4"/><circle cx="203.88" cy="292.43" r="5.4"/><circle cx="204.96" cy="289.47" r="5.4"/><circle cx="205.96" cy="286.65" r="5.4"/><circle cx="206.95" cy="283.83" r="5.4"/><circle cx="207.93" cy="281.00" r="5.4"/><circle cx="208.90" cy="278.16" r="5.4"/><circle cx="209.88" cy="275.30" r="5.4"/><circle cx="210.80" cy="272.60" r="5.4"/><circle cx="211.78" cy="269.72" r="5.4"/><circle cx="212.77" cy="266.83" r="5.4"/><circle cx="213.76" cy="263.93" r="5.4"/><circle cx="214.71" cy="261.19" r="5.4"/><circle cx="215.73" cy="258.29" r="5.4"/><circle cx="216.70" cy="255.54" r="5.4"/><circle cx="217.74" cy="252.62" r="5.4"/><circle cx="218.73" cy="249.87" r="5.4"/><circle cx="219.74" cy="247.12" r="5.4"/><circle cx="220.83" cy="244.21" r="5.4"/><circle cx="221.86" cy="241.46" r="5.4"/><circle cx="222.98" cy="238.56" r="5.4"/><circle cx="224.06" cy="235.83" r="5.4"/><circle cx="225.15" cy="233.10" r="5.4"/><circle cx="226.33" cy="230.23" r="5.4"/><circle cx="227.46" cy="227.52" r="5.4"/><circle cx="228.62" cy="224.83" r="5.4"/><circle cx="229.87" cy="221.99" r="5.4"/><circle cx="231.08" cy="219.33" r="5.4"/><circle cx="232.38" cy="216.52" r="5.4"/><circle cx="233.63" cy="213.89" r="5.4"/><circle cx="235.00" cy="211.13" r="5.4"/><circle cx="236.31" cy="208.54" r="5.4"/><circle cx="237.73" cy="205.82" r="5.4"/><circle cx="239.19" cy="203.13" r="5.4"/><circle cx="240.60" cy="200.61" r="5.4"/><circle cx="242.12" cy="197.97" r="5.4"/><circle cx="243.68" cy="195.36" r="5.4"/><circle cx="245.29" cy="192.79" r="5.4"/><circle cx="246.83" cy="190.39" r="5.4"/><circle cx="248.51" cy="187.88" r="5.4"/><circle cx="250.24" cy="185.41" r="5.4"/><circle cx="252.00" cy="182.97" r="5.4"/><circle cx="253.81" cy="180.58" r="5.4"/><circle cx="255.67" cy="178.23" r="5.4"/><circle cx="257.57" cy="175.92" r="5.4"/><circle cx="259.52" cy="173.65" r="5.4"/><circle cx="261.52" cy="171.44" r="5.4"/><circle cx="263.57" cy="169.27" r="5.4"/><circle cx="265.79" cy="167.03" r="5.4"/><circle cx="267.95" cy="164.97" r="5.4"/><circle cx="270.16" cy="162.95" r="5.4"/><circle cx="272.42" cy="160.99" r="5.4"/><circle cx="274.73" cy="159.08" r="5.4"/><circle cx="277.10" cy="157.22" r="5.4"/><circle cx="279.51" cy="155.41" r="5.4"/><circle cx="281.82" cy="153.75" r="5.4"/><circle cx="284.32" cy="152.03" r="5.4"/><circle cx="286.86" cy="150.37" r="5.4"/><circle cx="289.43" cy="148.74" r="5.4"/><circle cx="292.05" cy="147.17" r="5.4"/><circle cx="294.55" cy="145.72" r="5.4"/><circle cx="297.23" cy="144.23" r="5.4"/><circle cx="299.79" cy="142.87" r="5.4"/><circle cx="302.53" cy="141.46" r="5.4"/><circle cx="305.15" cy="140.18" r="5.4"/><circle cx="307.94" cy="138.85" r="5.4"/><circle cx="310.60" cy="137.64" r="5.4"/><circle cx="313.45" cy="136.39" r="5.4"/><circle cx="316.15" cy="135.25" r="5.4"/><circle cx="318.87" cy="134.15" r="5.4"/><circle cx="321.77" cy="133.01" r="5.4"/><circle cx="324.52" cy="131.97" r="5.4"/><circle cx="327.28" cy="130.97" r="5.4"/><circle cx="330.22" cy="129.93" r="5.4"/><circle cx="333.00" cy="128.99" r="5.4"/><circle cx="335.96" cy="128.03" r="5.4"/><circle cx="338.76" cy="127.14" r="5.4"/><circle cx="341.56" cy="126.29" r="5.4"/><circle cx="344.53" cy="125.42" r="5.4"/><circle cx="347.34" cy="124.62" r="5.4"/><circle cx="350.32" cy="123.81" r="5.4"/><circle cx="353.13" cy="123.07" r="5.4"/><circle cx="356.12" cy="122.32" r="5.4"/><circle cx="358.94" cy="121.64" r="5.4"/><circle cx="361.94" cy="120.95" r="5.4"/><circle cx="364.93" cy="120.28" r="5.4"/><circle cx="367.76" cy="119.69" r="5.4"/><circle cx="370.76" cy="119.09" r="5.4"/><circle cx="373.60" cy="118.55" r="5.4"/><circle cx="376.61" cy="118.00" r="5.4"/><circle cx="379.62" cy="117.49" r="5.4"/><circle cx="382.46" cy="117.03" r="5.4"/><circle cx="385.48" cy="116.58" r="5.4"/><circle cx="388.49" cy="116.15" r="5.4"/><circle cx="391.51" cy="115.76" r="5.4"/><circle cx="394.36" cy="115.41" r="5.4"/><circle cx="397.39" cy="115.07" r="5.4"/><circle cx="400.41" cy="114.76" r="5.4"/><circle cx="403.44" cy="114.48" r="5.4"/><circle cx="406.29" cy="114.24" r="5.4"/><circle cx="409.32" cy="114.02" r="5.4"/><circle cx="412.35" cy="113.82" r="5.4"/><circle cx="415.38" cy="113.65" r="5.4"/><circle cx="418.41" cy="113.51" r="5.4"/><circle cx="421.28" cy="113.40" r="5.4"/><circle cx="424.31" cy="113.32" r="5.4"/><circle cx="427.34" cy="113.26" r="5.4"/><circle cx="430.37" cy="113.23" r="5.4"/><circle cx="433.41" cy="113.22" r="5.4"/><circle cx="436.27" cy="113.25" r="5.4"/><circle cx="439.31" cy="113.30" r="5.4"/><circle cx="442.34" cy="113.37" r="5.4"/><circle cx="445.37" cy="113.48" r="5.4"/><circle cx="448.41" cy="113.61" r="5.4"/><circle cx="451.27" cy="113.76" r="5.4"/><circle cx="454.30" cy="113.94" r="5.4"/><circle cx="457.33" cy="114.15" r="5.4"/><circle cx="460.36" cy="114.39" r="5.4"/><circle cx="463.39" cy="114.65" r="5.4"/><circle cx="466.25" cy="114.92" r="5.4"/><circle cx="469.28" cy="115.23" r="5.4"/><circle cx="472.30" cy="115.57" r="5.4"/><circle cx="475.16" cy="115.91" r="5.4"/><circle cx="478.18" cy="116.30" r="5.4"/><circle cx="481.20" cy="116.71" r="5.4"/><circle cx="484.22" cy="117.15" r="5.4"/><circle cx="487.07" cy="117.58" r="5.4"/><circle cx="490.08" cy="118.07" r="5.4"/><circle cx="493.09" cy="118.58" r="5.4"/><circle cx="495.94" cy="119.09" r="5.4"/><circle cx="498.94" cy="119.65" r="5.4"/><circle cx="501.95" cy="120.23" r="5.4"/><circle cx="504.78" cy="120.80" r="5.4"/><circle cx="507.78" cy="121.43" r="5.4"/><circle cx="510.78" cy="122.09" r="5.4"/><circle cx="515.10" cy="123.07" r="5.4"/><circle cx="519.42" cy="124.09" r="5.4"/><circle cx="523.89" cy="125.17" r="5.4"/><circle cx="528.20" cy="126.23" r="5.4"/><circle cx="532.51" cy="127.28" r="5.4"/><circle cx="536.99" cy="128.36" r="5.4"/><circle cx="541.30" cy="129.38" r="5.4"/><circle cx="545.77" cy="130.40" r="5.4"/><circle cx="550.09" cy="131.34" r="5.4"/><circle cx="554.58" cy="132.25" r="5.4"/><circle cx="558.90" cy="133.05" r="5.4"/><circle cx="565.57" cy="134.12" r="5.4"/><circle cx="572.27" cy="134.95" r="5.4"/><circle cx="578.81" cy="135.50" r="5.4"/><circle cx="585.56" cy="135.74" r="5.4"/><circle cx="592.34" cy="135.62" r="5.4"/><circle cx="598.99" cy="135.12" r="5.4"/><circle cx="605.67" cy="134.31" r="5.4"/><circle cx="612.18" cy="133.35" r="5.4"/><circle cx="618.86" cy="132.34" r="5.4"/><circle cx="625.50" cy="131.42" r="5.4"/><circle cx="632.11" cy="130.74" r="5.4"/><circle cx="638.82" cy="130.45" r="5.4"/><circle cx="645.60" cy="130.32" r="5.4"/><circle cx="653.52" cy="127.89" r="5.4"/><circle cx="661.70" cy="133.89" r="5.4"/><circle cx="670.47" cy="139.00" r="5.4"/><circle cx="678.66" cy="143.41" r="5.4"/><circle cx="686.92" cy="146.50" r="5.4"/></g>
<path d="M58.30,393.50 L59.88,393.50 L61.45,393.50 L63.03,393.50 L64.60,393.49 L66.18,393.49 L67.75,393.49 L69.33,393.48 L70.90,393.48 L72.48,393.47 L74.05,393.47 L75.63,393.46 L77.20,393.46 L78.78,393.45 L80.35,393.44 L81.93,393.43 L83.51,393.42 L85.08,393.42 L86.66,393.41 L88.23,393.40 L89.81,393.39 L91.38,393.38 L92.96,393.36 L94.53,393.35 L96.11,393.34 L97.68,393.33 L99.26,393.32 L100.83,393.30 L102.41,393.29 L103.98,393.28 L105.56,393.26 L107.13,393.25 L108.71,393.24 L110.29,393.22 L111.86,393.21 L113.44,393.19 L115.01,393.18 L116.59,393.16 L118.16,393.15 L119.74,393.13 L121.31,393.12 L122.89,393.10 L124.46,393.09 L126.04,393.07 L127.61,393.05 L129.19,393.03 L130.76,393.01 L132.34,392.99 L133.92,392.96 L135.49,392.94 L137.07,392.91 L138.64,392.88 L140.22,392.85 L141.79,392.82 L143.37,392.79 L144.94,392.76 L146.52,392.72 L148.09,392.69 L149.67,392.65 L151.24,392.61 L152.82,392.57 L154.39,392.53 L155.97,392.49 L157.55,392.44 L159.12,392.39 L160.70,392.33 L162.27,392.27 L163.85,392.20 L165.42,392.13 L167.00,392.06 L168.57,391.98 L170.15,391.91 L171.72,391.83 L173.30,391.75 L174.87,391.66 L176.45,391.58 L178.02,391.48 L179.60,391.39 L181.17,391.28 L182.75,391.18 L184.33,391.07 L185.90,390.95 L187.48,390.84 L189.05,390.72 L190.63,390.61 L192.20,390.49 L193.78,390.37 L195.35,390.25 L196.93,390.13 L198.50,390.01 L200.08,389.88 L201.65,389.75 L203.23,389.62 L204.80,389.49 L206.38,389.36 L207.96,389.22 L209.53,389.09 L211.11,388.95 L212.68,388.82 L214.26,388.68 L215.83,388.55 L217.41,388.41 L218.98,388.28 L220.56,388.15 L222.13,388.02 L223.71,387.89 L225.28,387.77 L226.86,387.65 L228.43,387.52 L230.01,387.39 L231.59,387.26 L233.16,387.13 L234.74,386.99 L236.31,386.84 L237.89,386.69 L239.46,386.53 L241.04,386.35 L242.61,386.15 L244.19,385.95 L245.76,385.74 L247.34,385.52 L248.91,385.31 L250.49,385.10 L252.06,384.91 L253.64,384.72 L255.21,384.54 L256.79,384.35 L258.37,384.18 L259.94,384.00 L261.52,383.83 L263.09,383.66 L264.67,383.49 L266.24,383.32 L267.82,383.16 L269.39,383.00 L270.97,382.83 L272.54,382.67 L274.12,382.51 L275.69,382.36 L277.27,382.20 L278.84,382.04 L280.42,381.88 L282.00,381.72 L283.57,381.56 L285.15,381.40 L286.72,381.24 L288.30,381.07 L289.87,380.91 L291.45,380.74 L293.02,380.57 L294.60,380.40 L296.17,380.23 L297.75,380.05 L299.32,379.88 L300.90,379.69 L302.47,379.51 L304.05,379.32 L305.63,379.13 L307.20,378.93 L308.78,378.73 L310.35,378.52 L311.93,378.31 L313.50,378.10 L315.08,377.87 L316.65,377.65 L318.23,377.42 L319.80,377.18 L321.38,376.94 L322.95,376.69 L324.53,376.44 L326.10,376.18 L327.68,375.92 L329.25,375.65 L330.83,375.38 L332.41,375.10 L333.98,374.82 L335.56,374.54 L337.13,374.25 L338.71,373.95 L340.28,373.65 L341.86,373.35 L343.43,373.04 L345.01,372.73 L346.58,372.41 L348.16,372.09 L349.73,371.76 L351.31,371.43 L352.88,371.10 L354.46,370.76 L356.04,370.42 L357.61,370.07 L359.19,369.72 L360.76,369.37 L362.34,369.01 L363.91,368.65 L365.49,368.28 L367.06,367.91 L368.64,367.54 L370.21,367.16 L371.79,366.78 L373.36,366.39 L374.94,366.01 L376.51,365.61 L378.09,365.22 L379.67,364.82 L381.24,364.42 L382.82,364.01 L384.39,363.59 L385.97,363.16 L387.54,362.73 L389.12,362.29 L390.69,361.84 L392.27,361.38 L393.84,360.91 L395.42,360.44 L396.99,359.96 L398.57,359.47 L400.14,358.97 L401.72,358.47 L403.29,357.96 L404.87,357.45 L406.45,356.93 L408.02,356.40 L409.60,355.87 L411.17,355.33 L412.75,354.78 L414.32,354.23 L415.90,353.67 L417.47,353.11 L419.05,352.54 L420.62,351.97 L422.20,351.39 L423.77,350.81 L425.35,350.23 L426.92,349.64 L428.50,349.04 L430.08,348.44 L431.65,347.84 L433.23,347.23 L434.80,346.62 L436.38,346.01 L437.95,345.39 L439.53,344.77 L441.10,344.15 L442.68,343.52 L444.25,342.89 L445.83,342.26 L447.40,341.63 L448.98,340.98 L450.55,340.34 L452.13,339.68 L453.71,339.03 L455.28,338.36 L456.86,337.69 L458.43,337.02 L460.01,336.34 L461.58,335.65 L463.16,334.95 L464.73,334.25 L466.31,333.55 L467.88,332.83 L469.46,332.11 L471.03,331.39 L472.61,330.66 L474.18,329.92 L475.76,329.17 L477.34,328.42 L478.91,327.66 L480.49,326.89 L482.06,326.12 L483.64,325.33 L485.21,324.54 L486.79,323.75 L488.36,322.94 L489.94,322.13 L491.51,321.31 L493.09,320.48 L494.66,319.65 L496.24,318.80 L497.81,317.95 L499.39,317.09 L500.96,316.23 L502.54,315.35 L504.12,314.46 L505.69,313.57 L507.27,312.67 L508.84,311.76 L510.42,310.84 L511.99,309.91 L513.57,308.96 L515.14,308.00 L516.72,307.03 L518.29,306.05 L519.87,305.06 L521.44,304.05 L523.02,303.03 L524.59,302.00 L526.17,300.96 L527.75,299.90 L529.32,298.83 L530.90,297.76 L532.47,296.66 L534.05,295.56 L535.62,294.45 L537.20,293.32 L538.77,292.19 L540.35,291.04 L541.92,289.88 L543.50,288.71 L545.07,287.53 L546.65,286.34 L548.22,285.14 L549.80,283.93 L551.38,282.71 L552.95,281.48 L554.53,280.23 L556.10,278.98 L557.68,277.72 L559.25,276.44 L560.83,275.16 L562.40,273.87 L563.98,272.56 L565.55,271.25 L567.13,269.93 L568.70,268.60 L570.28,267.26 L571.85,265.91 L573.43,264.55 L575.00,263.18 L576.58,261.80 L578.16,260.40 L579.73,258.98 L581.31,257.55 L582.88,256.10 L584.46,254.63 L586.03,253.15 L587.61,251.65 L589.18,250.14 L590.76,248.61 L592.33,247.07 L593.91,245.51 L595.48,243.93 L597.06,242.35 L598.63,240.74 L600.21,239.12 L601.79,237.49 L603.36,235.85 L604.94,234.18 L606.51,232.51 L608.09,230.82 L609.66,229.12 L611.24,227.40 L612.81,225.67 L614.39,223.93 L615.96,222.17 L617.54,220.40 L619.11,218.62 L620.69,216.83 L622.26,215.02 L623.84,213.20 L625.42,211.37 L626.99,209.52 L628.57,207.67 L630.14,205.80 L631.72,203.92 L633.29,202.03 L634.87,200.12 L636.44,198.21 L638.02,196.28 L639.59,194.34 L641.17,192.38 L642.74,190.39 L644.32,188.38 L645.89,186.34 L647.47,184.28 L649.04,182.20 L650.62,180.09 L652.20,177.96 L653.77,175.81 L655.35,173.63 L656.92,171.44 L658.50,169.22 L660.07,166.99 L661.65,164.73 L663.22,162.46 L664.80,160.16 L666.37,157.85 L667.95,155.52 L669.52,153.18 L671.10,150.81 L672.67,148.43 L674.25,146.04 L675.83,143.63 L677.40,141.20 L678.98,138.76 L680.55,136.30 L682.13,133.84 L683.70,131.35 L685.28,128.86 L686.85,126.35" stroke="#5B9BD5" stroke-width="3" fill="none" stroke-dasharray="10.5 9.2"/>
<path d="M58.30,64.30 L59.92,66.89 L61.53,69.46 L63.15,72.03 L64.77,74.59 L66.38,77.13 L68.00,79.66 L69.62,82.18 L71.23,84.68 L72.85,87.17 L74.47,89.65 L76.08,92.11 L77.70,94.55 L79.32,96.98 L80.93,99.38 L82.55,101.77 L84.16,104.15 L85.78,106.55 L87.40,108.95 L89.01,111.35 L90.63,113.76 L92.25,116.17 L93.86,118.57 L95.48,120.97 L97.10,123.36 L98.71,125.74 L100.33,128.10 L101.95,130.45 L103.56,132.77 L105.18,135.07 L106.80,137.35 L108.41,139.59 L110.03,141.80 L111.65,143.98 L113.26,146.12 L114.88,148.21 L116.50,150.26 L118.11,152.27 L119.73,154.23 L121.35,156.13 L122.96,157.98 L124.58,159.79 L126.19,161.57 L127.81,163.34 L129.43,165.09 L131.04,166.82 L132.66,168.52 L134.28,170.21 L135.89,171.88 L137.51,173.53 L139.13,175.16 L140.74,176.78 L142.36,178.37 L143.98,179.95 L145.59,181.51 L147.21,183.06 L148.83,184.59 L150.44,186.11 L152.06,187.61 L153.68,189.09 L155.29,190.56 L156.91,192.02 L158.53,193.47 L160.14,194.90 L161.76,196.32 L163.38,197.72 L164.99,199.12 L166.61,200.50 L168.22,201.87 L169.84,203.23 L171.46,204.59 L173.07,205.93 L174.69,207.26 L176.31,208.58 L177.92,209.90 L179.54,211.21 L181.16,212.50 L182.77,213.80 L184.39,215.08 L186.01,216.36 L187.62,217.63 L189.24,218.90 L190.86,220.15 L192.47,221.39 L194.09,222.62 L195.71,223.85 L197.32,225.06 L198.94,226.27 L200.56,227.46 L202.17,228.65 L203.79,229.82 L205.41,230.99 L207.02,232.15 L208.64,233.30 L210.25,234.44 L211.87,235.58 L213.49,236.71 L215.10,237.82 L216.72,238.94 L218.34,240.04 L219.95,241.14 L221.57,242.22 L223.19,243.31 L224.80,244.38 L226.42,245.45 L228.04,246.51 L229.65,247.57 L231.27,248.62 L232.89,249.66 L234.50,250.70 L236.12,251.74 L237.74,252.76 L239.35,253.78 L240.97,254.80 L242.59,255.81 L244.20,256.82 L245.82,257.82 L247.44,258.82 L249.05,259.81 L250.67,260.80 L252.28,261.79 L253.90,262.77 L255.52,263.75 L257.13,264.73 L258.75,265.70 L260.37,266.67 L261.98,267.64 L263.60,268.60 L265.22,269.56 L266.83,270.52 L268.45,271.47 L270.07,272.42 L271.68,273.36 L273.30,274.30 L274.92,275.24 L276.53,276.17 L278.15,277.09 L279.77,278.01 L281.38,278.92 L283.00,279.83 L284.62,280.73 L286.23,281.63 L287.85,282.51 L289.47,283.39 L291.08,284.27 L292.70,285.14 L294.32,286.00 L295.93,286.85 L297.55,287.70 L299.16,288.53 L300.78,289.36 L302.40,290.18 L304.01,291.00 L305.63,291.80 L307.25,292.60 L308.86,293.38 L310.48,294.16 L312.10,294.93 L313.71,295.69 L315.33,296.44 L316.95,297.17 L318.56,297.90 L320.18,298.62 L321.80,299.33 L323.41,300.04 L325.03,300.73 L326.65,301.42 L328.26,302.10 L329.88,302.77 L331.50,303.44 L333.11,304.10 L334.73,304.75 L336.35,305.40 L337.96,306.04 L339.58,306.67 L341.19,307.30 L342.81,307.93 L344.43,308.55 L346.04,309.17 L347.66,309.78 L349.28,310.39 L350.89,311.00 L352.51,311.61 L354.13,312.21 L355.74,312.81 L357.36,313.41 L358.98,314.00 L360.59,314.60 L362.21,315.19 L363.83,315.79 L365.44,316.38 L367.06,316.97 L368.68,317.57 L370.29,318.16 L371.91,318.76 L373.53,319.35 L375.14,319.95 L376.76,320.55 L378.38,321.16 L379.99,321.76 L381.61,322.37 L383.22,322.98 L384.84,323.59 L386.46,324.20 L388.07,324.81 L389.69,325.42 L391.31,326.03 L392.92,326.64 L394.54,327.25 L396.16,327.86 L397.77,328.47 L399.39,329.08 L401.01,329.69 L402.62,330.30 L404.24,330.91 L405.86,331.52 L407.47,332.12 L409.09,332.72 L410.71,333.32 L412.32,333.92 L413.94,334.52 L415.56,335.11 L417.17,335.71 L418.79,336.30 L420.41,336.88 L422.02,337.47 L423.64,338.05 L425.25,338.62 L426.87,339.20 L428.49,339.77 L430.10,340.33 L431.72,340.90 L433.34,341.45 L434.95,342.01 L436.57,342.56 L438.19,343.10 L439.80,343.64 L441.42,344.18 L443.04,344.70 L444.65,345.23 L446.27,345.75 L447.89,346.27 L449.50,346.78 L451.12,347.30 L452.74,347.82 L454.35,348.33 L455.97,348.84 L457.59,349.35 L459.20,349.86 L460.82,350.37 L462.44,350.88 L464.05,351.38 L465.67,351.88 L467.28,352.38 L468.90,352.87 L470.52,353.37 L472.13,353.86 L473.75,354.34 L475.37,354.82 L476.98,355.30 L478.60,355.78 L480.22,356.25 L481.83,356.72 L483.45,357.18 L485.07,357.64 L486.68,358.10 L488.30,358.55 L489.92,359.00 L491.53,359.44 L493.15,359.87 L494.77,360.30 L496.38,360.73 L498.00,361.15 L499.62,361.57 L501.23,361.97 L502.85,362.38 L504.47,362.77 L506.08,363.16 L507.70,363.55 L509.32,363.92 L510.93,364.30 L512.55,364.66 L514.16,365.02 L515.78,365.38 L517.40,365.73 L519.01,366.07 L520.63,366.41 L522.25,366.75 L523.86,367.08 L525.48,367.41 L527.10,367.73 L528.71,368.05 L530.33,368.37 L531.95,368.68 L533.56,368.99 L535.18,369.30 L536.80,369.60 L538.41,369.91 L540.03,370.21 L541.65,370.51 L543.26,370.80 L544.88,371.10 L546.50,371.39 L548.11,371.68 L549.73,371.97 L551.35,372.26 L552.96,372.55 L554.58,372.84 L556.19,373.13 L557.81,373.41 L559.43,373.70 L561.04,373.99 L562.66,374.28 L564.28,374.57 L565.89,374.86 L567.51,375.15 L569.13,375.44 L570.74,375.73 L572.36,376.03 L573.98,376.32 L575.59,376.62 L577.21,376.92 L578.83,377.22 L580.44,377.53 L582.06,377.83 L583.68,378.14 L585.29,378.44 L586.91,378.75 L588.53,379.05 L590.14,379.36 L591.76,379.66 L593.38,379.97 L594.99,380.27 L596.61,380.57 L598.22,380.87 L599.84,381.17 L601.46,381.47 L603.07,381.76 L604.69,382.05 L606.31,382.34 L607.92,382.62 L609.54,382.90 L611.16,383.18 L612.77,383.45 L614.39,383.72 L616.01,383.98 L617.62,384.24 L619.24,384.49 L620.86,384.74 L622.47,384.98 L624.09,385.22 L625.71,385.45 L627.32,385.68 L628.94,385.91 L630.56,386.13 L632.17,386.35 L633.79,386.57 L635.41,386.79 L637.02,387.00 L638.64,387.21 L640.25,387.42 L641.87,387.63 L643.49,387.83 L645.10,388.03 L646.72,388.22 L648.34,388.42 L649.95,388.61 L651.57,388.80 L653.19,388.98 L654.80,389.17 L656.42,389.35 L658.04,389.52 L659.65,389.70 L661.27,389.87 L662.89,390.03 L664.50,390.20 L666.12,390.36 L667.74,390.52 L669.35,390.68 L670.97,390.84 L672.59,390.99 L674.20,391.14 L675.82,391.29 L677.44,391.44 L679.05,391.59 L680.67,391.73 L682.28,391.88 L683.90,392.02 L685.52,392.15 L687.13,392.29 L688.75,392.42 L690.37,392.55 L691.98,392.68 L693.60,392.80 L695.22,392.93 L696.83,393.05 L698.45,393.16 L700.07,393.28 L701.68,393.39 L703.30,393.50" stroke="#FF0000" stroke-width="3" fill="none" stroke-dasharray="10.5 9.28"/>
<path d="M121.9,317.3 H189.2 V368.6 H121.9 Z" stroke="#000" stroke-width="3.8" fill="none" stroke-dasharray="3.8 3.75"/>
<path d="M207.8,13.7 H258.3" stroke="#FF0000" stroke-width="3"/><circle cx="233.1" cy="13.7" r="4.5" fill="#FF0000"/>
<text x="262" y="18.5" font-size="15.2" fill="#000">krg</text>
<path d="M390.5,13.7 H440" stroke="#5B9BD5" stroke-width="3"/><circle cx="415.3" cy="13.7" r="4.5" fill="#5B9BD5"/>
<text x="444.2" y="18.5" font-size="15.2" fill="#000">krw</text>
<path d="M208,51.5 H258" stroke="#5B9BD5" stroke-width="3" stroke-dasharray="10.5 9.2"/>
<text x="261.7" y="56.1" font-size="15.2" fill="#000">Krw-input curve</text>
<path d="M390.2,51.5 H440" stroke="#FF0000" stroke-width="3" stroke-dasharray="10.5 9.2"/>
<text x="444.6" y="56.1" font-size="15.2" fill="#000">Krg-input curve</text>
</svg></body></html>
